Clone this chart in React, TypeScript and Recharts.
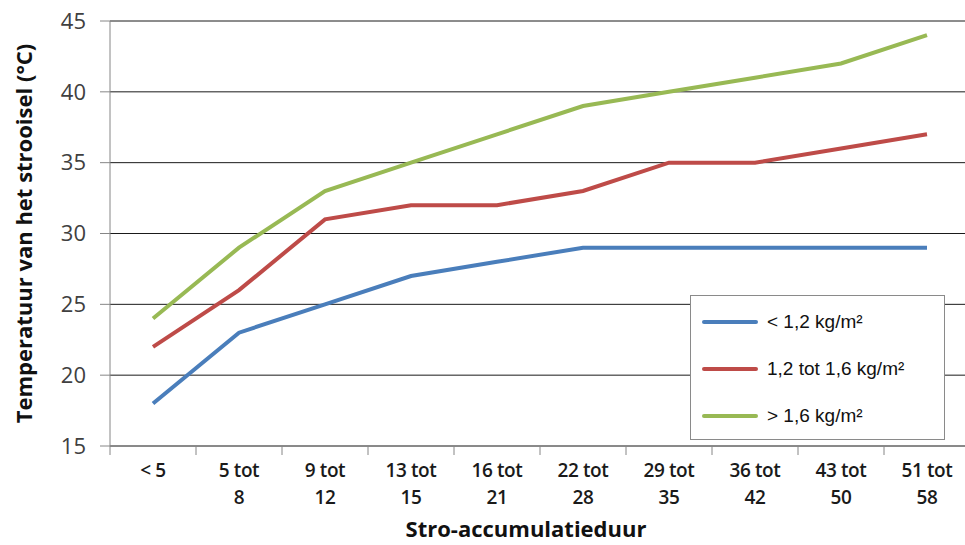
import { LineChart, Line, XAxis, YAxis, CartesianGrid } from 'recharts';

const categories = ['< 5', '5 tot 8', '9 tot 12', '13 tot 15', '16 tot 21', '22 tot 28', '29 tot 35', '36 tot 42', '43 tot 50', '51 tot 58'];
const lowDensity = [18, 23, 25, 27, 28, 29, 29, 29, 29, 29];
const midDensity = [22, 26, 31, 32, 32, 33, 35, 35, 36, 37];
const highDensity = [24, 29, 33, 35, 37, 39, 40, 41, 42, 44];
const yTicks = [15, 20, 25, 30, 35, 40, 45];

const series = [
  { key: 'low', name: '< 1,2 kg/m²', color: '#4a7ebb', values: lowDensity },
  { key: 'mid', name: '1,2 tot 1,6 kg/m²', color: '#be4b48', values: midDensity },
  { key: 'high', name: '> 1,6 kg/m²', color: '#98b954', values: highDensity },
];

const data = categories.map((name, i) => {
  const row: Record<string, string | number> = { name };
  series.forEach((s) => {
    row[s.key] = s.values[i];
  });
  return row;
});

const axisGrey = '#868686';
const halfBand = 43;

function XTick(props: any) {
  const { x, y, payload } = props;
  const label: string = payload.value;
  const idx = label.indexOf(' tot ');
  const lines = idx >= 0 ? [label.slice(0, idx + 4), label.slice(idx + 5)] : [label];
  return (
    <g>
      <line x1={x - halfBand} x2={x - halfBand} y1={y - 8} y2={y + 1} stroke={axisGrey} />
      <text
        x={x}
        y={y + 23}
        textAnchor="middle"
        fontFamily="'Open Sans', sans-serif"
        fontWeight={600}
        fontSize={19}
        letterSpacing={-0.4}
        fill="#1a1a1a"
      >
        {lines.map((l, i) => (
          <tspan key={i} x={x} dy={i === 0 ? 0 : 27}>
            {l}
          </tspan>
        ))}
      </text>
    </g>
  );
}

function LegendBox() {
  return (
    <div
      style={{
        position: 'absolute',
        left: 690,
        top: 295,
        width: 255,
        height: 145,
        background: '#fff',
        border: '1px solid #8a8a8a',
        boxSizing: 'border-box',
        paddingTop: 2,
        fontFamily: "'Liberation Sans', Arial, sans-serif",
        fontSize: 19,
        color: '#111',
      }}
    >
      {series.map((s) => (
        <div key={s.key} style={{ display: 'flex', alignItems: 'center', height: 47 }}>
          <div style={{ width: 56, height: 4, background: s.color, marginLeft: 11, marginRight: 9, borderRadius: 2 }} />
          <span>{s.name}</span>
        </div>
      ))}
    </div>
  );
}

export default function App() {
  return (
    <div style={{ position: 'absolute', left: 0, top: 0, width: 965, height: 545, overflow: 'hidden', background: '#fff' }}>
      <LineChart width={975} height={545} data={data} margin={{ top: 21, right: 5, bottom: 0, left: 0 }}>
        <CartesianGrid horizontal vertical={false} stroke="#1a1a1a" strokeWidth={1} />
        <XAxis
          dataKey="name"
          stroke={axisGrey}
          tickLine={false}
          interval={0}
          tick={<XTick />}
          height={99}
          padding={{ left: halfBand, right: halfBand }}
          label={{
            value: 'Stro-accumulatieduur',
            position: 'insideBottom',
            offset: 8,
            dx: -14,
            fontFamily: "'Open Sans', sans-serif",
            fontWeight: 700,
            fontSize: 22,
            fill: '#111',
          }}
        />
        <YAxis
          domain={[15, 45]}
          ticks={yTicks}
          width={110}
          stroke={axisGrey}
          tickSize={10}
          tickMargin={14}
          tick={{ fontFamily: "'Open Sans', sans-serif", fontSize: 22, fill: '#404040' }}
          label={{
            value: 'Temperatuur van het strooisel (°C)',
            angle: -90,
            position: 'insideLeft',
            offset: 24,
            dy: 0,
            fontFamily: "'Open Sans', sans-serif",
            fontWeight: 700,
            fontSize: 22,
            fill: '#111',
            style: { textAnchor: 'middle' },
          }}
        />
        {series.map((s) => (
          <Line
            key={s.key}
            dataKey={s.key}
            name={s.name}
            stroke={s.color}
            strokeWidth={4}
            dot={false}
            isAnimationActive={false}
          />
        ))}
      </LineChart>
      <LegendBox />
    </div>
  );
}
